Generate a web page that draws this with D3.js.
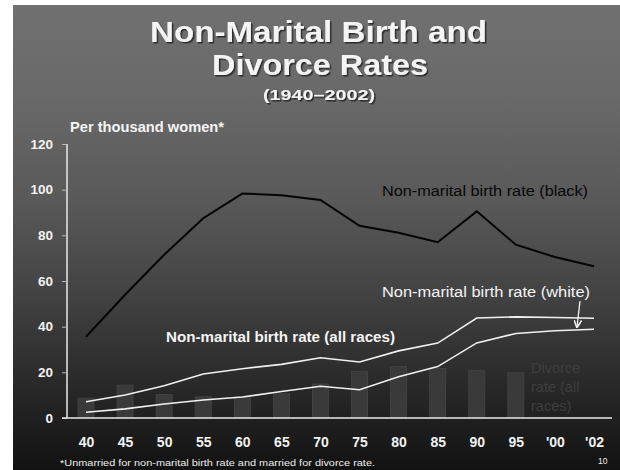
<!DOCTYPE html>
<html>
<head>
<meta charset="utf-8">
<script src="https://cdn.jsdelivr.net/npm/d3@7"></script>
<style>
  body { margin: 0; background: #fff; }
  svg { display: block; font-family: Arial, "Liberation Sans", sans-serif; }
</style>
</head>
<body>
<div id="chart"></div>
<script>
// data
var years = ["40", "45", "50", "55", "60", "65", "70", "75", "80", "85", "90", "95", "'00", "'02"];
var blackRate = [35.6, 54, 71.5, 87.5, 98.3, 97.6, 95.5, 84.2, 81.1, 77.0, 90.5, 75.9, 70.5, 66.5];
var allRate = [7.1, 10.1, 14.1, 19.3, 21.6, 23.5, 26.4, 24.5, 29.4, 32.8, 43.8, 44.3, 44.0, 43.7];
var whiteRate = [2.5, 4.0, 6.1, 7.9, 9.2, 11.6, 13.9, 12.4, 18.1, 22.5, 32.9, 37.0, 38.2, 38.9];
var divorceRate = [8.7, 14.4, 10.3, 9.3, 9.2, 10.6, 14.9, 20.3, 22.6, 21.7, 20.9, 19.8, null, null];
var yTicks = [0, 20, 40, 60, 80, 100, 120];

var W = 620, H = 470;
var svg = d3.select("#chart").append("svg")
    .attr("width", W)
    .attr("height", H);

// slide background gradient
var defs = svg.append("defs");
var grad = defs.append("linearGradient")
    .attr("id", "bggrad")
    .attr("gradientUnits", "userSpaceOnUse")
    .attr("x1", 0).attr("y1", 5).attr("x2", 0).attr("y2", H);
grad.append("stop").attr("offset", "0").attr("stop-color", "#707070");
grad.append("stop").attr("offset", "0.2").attr("stop-color", "#696969");
grad.append("stop").attr("offset", "0.42").attr("stop-color", "#595959");
grad.append("stop").attr("offset", "0.61").attr("stop-color", "#444");
grad.append("stop").attr("offset", "0.8").attr("stop-color", "#2b2b2b");
grad.append("stop").attr("offset", "1").attr("stop-color", "#121212");

var shadow = defs.append("filter").attr("id", "shadow");
shadow.append("feDropShadow")
    .attr("dx", 1.5).attr("dy", 1.5)
    .attr("stdDeviation", 0.6)
    .attr("flood-color", "#222")
    .attr("flood-opacity", 0.9);

svg.append("rect")
    .attr("x", 13).attr("y", 5)
    .attr("width", W - 13).attr("height", H - 5)
    .attr("fill", "url(#bggrad)");

// title
var title = svg.append("g")
    .attr("fill", "#f4f4f4")
    .attr("font-weight", "bold")
    .attr("filter", "url(#shadow)");
title.append("text").attr("x", 150).attr("y", 42).attr("font-size", 29)
    .attr("textLength", 337).attr("lengthAdjust", "spacingAndGlyphs")
    .text("Non-Marital Birth and");
title.append("text").attr("x", 212).attr("y", 75).attr("font-size", 29)
    .attr("textLength", 216).attr("lengthAdjust", "spacingAndGlyphs")
    .text("Divorce Rates");
title.append("text").attr("x", 263).attr("y", 100).attr("font-size", 15)
    .attr("textLength", 112).attr("lengthAdjust", "spacingAndGlyphs")
    .text("(1940\u20132002)");

// scales
var x = d3.scalePoint().domain(years).range([86, 594]);
var y = d3.scaleLinear().domain([0, 120]).range([418, 144]);

// divorce bars
svg.append("g").selectAll("rect")
    .data(years.map(function(d, i) { return { year: d, v: divorceRate[i] }; })
        .filter(function(d) { return d.v != null; }))
    .enter().append("rect")
    .attr("x", function(d) { return x(d.year) - 8; })
    .attr("y", function(d) { return y(d.v); })
    .attr("width", 16)
    .attr("height", function(d) { return y(0) - y(d.v); })
    .attr("fill", "#3a3a3a")
    .attr("stroke", "#454545")
    .attr("stroke-width", 0.8);

// axes
var yAxis = svg.append("g")
    .attr("transform", "translate(67,0)")
    .call(d3.axisLeft(y).tickValues(yTicks).tickSize(5).tickPadding(9));
yAxis.select(".domain").attr("stroke", "#e8e8e8").attr("stroke-width", 1.5)
    .attr("d", "M0," + y(120) + "V" + y(0));
yAxis.selectAll(".tick line").attr("stroke", "#bbb");
yAxis.selectAll(".tick text")
    .attr("fill", "#f2f2f2")
    .attr("font-size", 13.5)
    .attr("font-weight", "bold")
    .attr("font-family", "Arial, sans-serif");

var xAxis = svg.append("g")
    .attr("transform", "translate(0," + y(0) + ")")
    .call(d3.axisBottom(x).tickSize(0).tickPadding(19));
xAxis.select(".domain").attr("stroke", "#e8e8e8").attr("stroke-width", 1.5)
    .attr("d", "M62,0H612");
xAxis.selectAll(".tick text")
    .attr("fill", "#f2f2f2")
    .attr("font-size", 14)
    .attr("font-weight", "bold")
    .attr("font-family", "Arial, sans-serif");

// lines
var line = d3.line()
    .x(function(d, i) { return x(years[i]); })
    .y(function(d) { return y(d); });

svg.append("path").datum(blackRate)
    .attr("d", line).attr("fill", "none")
    .attr("stroke", "#050505").attr("stroke-width", 2);
svg.append("path").datum(allRate)
    .attr("d", line).attr("fill", "none")
    .attr("stroke", "#f0f0f0").attr("stroke-width", 1.6);
svg.append("path").datum(whiteRate)
    .attr("d", line).attr("fill", "none")
    .attr("stroke", "#f0f0f0").attr("stroke-width", 1.6);

// labels
svg.append("text")
    .attr("x", 70).attr("y", 132)
    .attr("fill", "#f4f4f4").attr("font-size", 14).attr("font-weight", "bold")
    .attr("textLength", 154).attr("lengthAdjust", "spacingAndGlyphs")
    .text("Per thousand women*");

svg.append("text")
    .attr("x", 382).attr("y", 196)
    .attr("fill", "#080808").attr("font-size", 14)
    .attr("textLength", 206).attr("lengthAdjust", "spacingAndGlyphs")
    .text("Non-marital birth rate (black)");

svg.append("text")
    .attr("x", 382).attr("y", 297)
    .attr("fill", "#f4f4f4").attr("font-size", 14)
    .attr("textLength", 208).attr("lengthAdjust", "spacingAndGlyphs")
    .text("Non-marital birth rate (white)");

svg.append("text")
    .attr("x", 166).attr("y", 342)
    .attr("fill", "#f4f4f4").attr("font-size", 14).attr("font-weight", "bold")
    .attr("textLength", 229).attr("lengthAdjust", "spacingAndGlyphs")
    .text("Non-marital birth rate (all races)");

// arrow to the white line
defs.append("marker")
    .attr("id", "arrow")
    .attr("viewBox", "0 0 10 10")
    .attr("refX", 9).attr("refY", 5)
    .attr("markerWidth", 6).attr("markerHeight", 6)
    .attr("orient", "auto")
    .append("path")
    .attr("d", "M0,0L10,5L0,10")
    .attr("fill", "none")
    .attr("stroke", "#f4f4f4")
    .attr("stroke-width", 2);
svg.append("line")
    .attr("x1", 580).attr("y1", 301)
    .attr("x2", 577).attr("y2", 327)
    .attr("stroke", "#f4f4f4").attr("stroke-width", 1.3)
    .attr("marker-end", "url(#arrow)");

var div = svg.append("text")
    .attr("fill", "#3e3e3e").attr("font-size", 14.5);
["Divorce", "rate (all", "races)"].forEach(function(t, i) {
    div.append("tspan").attr("x", 531).attr("y", 373 + i * 19).text(t);
});

svg.append("text")
    .attr("x", 60).attr("y", 466)
    .attr("fill", "#eee").attr("font-size", 8.5)
    .attr("textLength", 315).attr("lengthAdjust", "spacingAndGlyphs")
    .text("*Unmarried for non-marital birth rate and married for divorce rate.");

svg.append("text")
    .attr("x", 598).attr("y", 464)
    .attr("fill", "#eee").attr("font-size", 8.5)
    .text("10");
</script>
</body>
</html>
